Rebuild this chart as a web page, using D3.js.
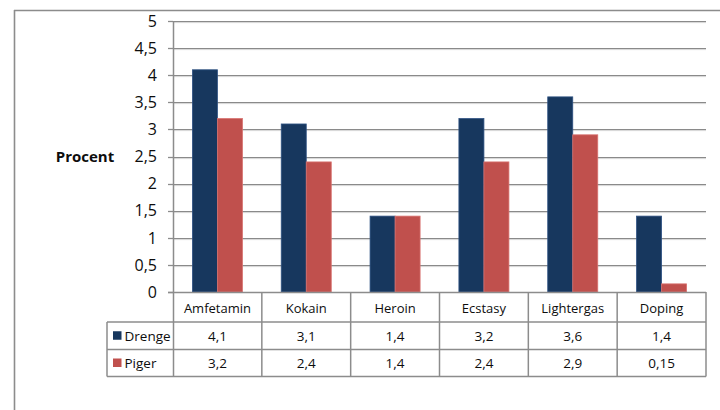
<!DOCTYPE html>
<html><head><meta charset="utf-8">
<script src="https://cdn.jsdelivr.net/npm/d3@7"></script>
<style>
html,body{margin:0;padding:0;background:#fff;}
svg text{font-family:"Open Sans","Lato",sans-serif;fill:#0d0d0d;}
</style></head>
<body>
<svg id="c" width="720" height="410"></svg>
<script>
const categories = ["Amfetamin","Kokain","Heroin","Ecstasy","Lightergas","Doping"];
const seriesNames = ["Drenge","Piger"];
const drenge = [4.1,3.1,1.4,3.2,3.6,1.4];
const piger = [3.2,2.4,1.4,2.4,2.9,0.15];
const yTicks = [0,0.5,1,1.5,2,2.5,3,3.5,4,4.5,5];
const colors = ["#17375E","#C0504D"];
const edgeColors = ["#2e5283","#d8726f"];

(function(){
const svg = d3.select("#c");
const fmt = v => String(v).replace(".", ",");
const pL = 173, pR = 706, pT = 21, zero = 292;
const rowH = [30, 27.5, 27];
const legLeft = 107;
const gray = "#8c8c8c";

svg.append("line").attr("x1",14).attr("x2",720).attr("y1",10.5).attr("y2",10.5).attr("stroke",gray).attr("stroke-width",1.6);
svg.append("line").attr("x1",14.5).attr("x2",14.5).attr("y1",10).attr("y2",410).attr("stroke",gray).attr("stroke-width",1.6);

const y = d3.scaleLinear().domain([0,5]).range([zero, pT]);
const x0 = d3.scaleBand().domain(categories).range([pL, pR]).padding(0);
const x1 = d3.scaleBand().domain(seriesNames).range([0, x0.bandwidth()]).paddingInner(0).paddingOuter(0.776);

svg.append("g").selectAll("line").data(yTicks.filter(d=>d>0)).join("line")
  .attr("x1",pL).attr("x2",pR)
  .attr("y1",d=>Math.round(y(d))+0.5).attr("y2",d=>Math.round(y(d))+0.5)
  .attr("stroke","#8a8a8a").attr("stroke-width",1.2);
svg.append("g").selectAll("line").data(yTicks.filter(d=>d>0)).join("line")
  .attr("x1",pL).attr("x2",pR)
  .attr("y1",d=>Math.round(y(d))+1.6).attr("y2",d=>Math.round(y(d))+1.6)
  .attr("stroke","#d6d6d6").attr("stroke-width",1);

const data = [drenge, piger];
seriesNames.forEach((s,si)=>{
  svg.append("g").selectAll("rect").data(categories).join("rect")
    .attr("x",(c)=>x0(c)+x1(s))
    .attr("width",x1.bandwidth())
    .attr("y",(c,i)=>y(data[si][i]))
    .attr("height",(c,i)=>zero - y(data[si][i]))
    .attr("fill",colors[si])
    .attr("stroke",edgeColors[si]).attr("stroke-width",0.8);
});

svg.append("g").selectAll("text").data(yTicks).join("text")
  .attr("x",157).attr("y",d=>y(d)).attr("dy","0.36em")
  .attr("text-anchor","end").style("font-size","16px")
  .text(d=>fmt(d));

svg.append("g").selectAll("line").data(yTicks).join("line")
  .attr("x1",168).attr("x2",pL)
  .attr("y1",d=>Math.round(y(d))+0.5).attr("y2",d=>Math.round(y(d))+0.5)
  .attr("stroke",gray).attr("stroke-width",1.3);

svg.append("text").attr("x",85).attr("y",y(2.5)).attr("dy","0.36em")
  .attr("text-anchor","middle").style("font-size","15px").style("font-weight","bold")
  .text("Procent");

const r0 = zero, r1 = r0 + rowH[0], r2 = r1 + rowH[1], r3 = r2 + rowH[2];
const tg = svg.append("g");
tg.append("line").attr("x1",168).attr("x2",pR).attr("y1",r0+0.5).attr("y2",r0+0.5).attr("stroke",gray).attr("stroke-width",1.6);
[r1,r2,r3].forEach(ry=>{
  tg.append("line").attr("x1",legLeft).attr("x2",pR).attr("y1",ry).attr("y2",ry).attr("stroke",gray).attr("stroke-width",1.5);
});
tg.append("line").attr("x1",pL+0.5).attr("x2",pL+0.5).attr("y1",pT).attr("y2",r3).attr("stroke",gray).attr("stroke-width",1.5);
tg.append("line").attr("x1",legLeft).attr("x2",legLeft).attr("y1",r1).attr("y2",r3).attr("stroke",gray).attr("stroke-width",1.5);
tg.selectAll("line.col").data(categories).join("line").attr("class","col")
  .attr("x1",c=>x0(c)+x0.bandwidth()).attr("x2",c=>x0(c)+x0.bandwidth())
  .attr("y1",r0).attr("y2",r3).attr("stroke",gray).attr("stroke-width",1.5);

tg.selectAll("text.cat").data(categories).join("text").attr("class","cat")
  .attr("x",c=>x0(c)+x0.bandwidth()/2).attr("y",(r0+r1)/2+1).attr("dy","0.36em")
  .attr("text-anchor","middle").style("font-size","13px").text(c=>c);

const rowsY = [(r1+r2)/2, (r2+r3)/2];
seriesNames.forEach((s,si)=>{
  tg.selectAll("text.v"+si).data(categories).join("text").attr("class","v"+si)
    .attr("x",c=>x0(c)+x0.bandwidth()/2).attr("y",rowsY[si]).attr("dy","0.36em")
    .attr("text-anchor","middle").style("font-size","13.5px")
    .text((c,i)=>fmt(data[si][i]));
  tg.append("rect").attr("x",113).attr("y",rowsY[si]-4.5).attr("width",8.5).attr("height",8.5).attr("fill",colors[si]);
  tg.append("text").attr("x",124.5).attr("y",rowsY[si]).attr("dy","0.36em")
    .style("font-size","13.5px").text(s);
});
})();
</script>
</body></html>
